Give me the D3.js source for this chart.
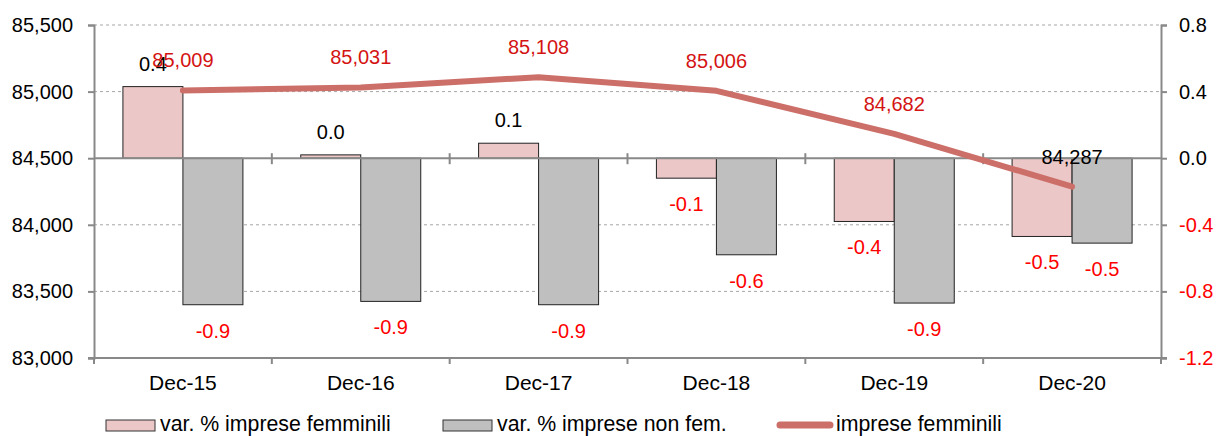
<!DOCTYPE html>
<html><head><meta charset="utf-8">
<script src="https://cdn.jsdelivr.net/npm/d3@7"></script>
<style>
html,body{margin:0;padding:0;background:#fff;}
text{font-family:"Liberation Sans",Arial,sans-serif;}
</style></head>
<body><svg id="c" width="1219" height="436"></svg>
<script>
const categories = ["Dec-15","Dec-16","Dec-17","Dec-18","Dec-19","Dec-20"];
const varFem = [0.43, 0.02, 0.09, -0.12, -0.38, -0.47];
const varNonFem = [-0.88, -0.86, -0.88, -0.58, -0.87, -0.51];
const varFemLabels = ["0.4","0.0","0.1","-0.1","-0.4","-0.5"];
const varNonFemLabels = ["-0.9","-0.9","-0.9","-0.6","-0.9","-0.5"];
const impreseFem = [85009, 85031, 85108, 85006, 84682, 84287];
const leftTicks = [83000, 83500, 84000, 84500, 85000, 85500];
const rightTicks = [-1.2, -0.8, -0.4, 0.0, 0.4, 0.8];
const seriesNames = ["var. % imprese femminili", "var. % imprese non fem.", "imprese femminili"];

const svg = d3.select("#c");
const L = 94, R = 1161, T = 25, B = 358;
const x = d3.scaleBand().domain(categories).range([L, R]).paddingInner(0).paddingOuter(0);
const yL = d3.scaleLinear().domain([83000, 85500]).range([B, T]);
const yR = d3.scaleLinear().domain([-1.2, 0.8]).range([B, T]);
const axisCol = "#898989";
const fmt = d3.format(",");
const fmtR = d => d3.format(".1f")(d).replace("\u2212", "-");

// gridlines
svg.append("g").selectAll("line").data(leftTicks.filter(d => d !== 83000 && d !== 84500)).join("line")
  .attr("x1", L).attr("x2", R).attr("y1", d => yL(d)).attr("y2", d => yL(d))
  .attr("stroke", "#a6a6a6").attr("stroke-width", 1).attr("stroke-dasharray", "3,3");

// bars
const bw = 60;
const pad = (x.bandwidth() - 2 * bw) / 2;
const g = svg.append("g");
g.selectAll("rect.f").data(varFem).join("rect").attr("class","f")
  .attr("x", (d,i) => x(categories[i]) + pad)
  .attr("y", d => Math.min(yR(d), yR(0)))
  .attr("width", bw).attr("height", d => Math.abs(yR(d) - yR(0)))
  .attr("fill", "#ebc8c7").attr("stroke", "#222").attr("stroke-width", 1);
g.selectAll("rect.n").data(varNonFem).join("rect").attr("class","n")
  .attr("x", (d,i) => x(categories[i]) + pad + bw)
  .attr("y", d => Math.min(yR(d), yR(0)))
  .attr("width", bw).attr("height", d => Math.abs(yR(d) - yR(0)))
  .attr("fill", "#bfbfbf").attr("stroke", "#222").attr("stroke-width", 1);

// zero line with category ticks
const zeroY = yR(0);
svg.append("line").attr("x1", L).attr("x2", R).attr("y1", zeroY).attr("y2", zeroY)
  .attr("stroke", axisCol).attr("stroke-width", 2);
const bounds = categories.map(c => x(c)).concat([R]);
svg.append("g").selectAll("line").data(bounds.slice(1, -1)).join("line")
  .attr("x1", d => d).attr("x2", d => d).attr("y1", zeroY - 5).attr("y2", zeroY + 6)
  .attr("stroke", axisCol).attr("stroke-width", 2);

// bottom axis
const xAxis = svg.append("g").attr("transform", `translate(0,${B})`)
  .call(d3.axisBottom(x).tickSize(0).tickPadding(0));
xAxis.select(".domain").remove();
xAxis.selectAll("text").attr("y", 32).attr("dy", 0).attr("font-size", 21).attr("fill", "#000")
  .attr("font-family", "Liberation Sans, Arial, sans-serif");
svg.append("line").attr("x1", L - 6).attr("x2", R + 6).attr("y1", B).attr("y2", B)
  .attr("stroke", axisCol).attr("stroke-width", 2);
svg.append("g").selectAll("line").data(bounds).join("line")
  .attr("x1", d => d).attr("x2", d => d).attr("y1", B).attr("y2", B + 6)
  .attr("stroke", axisCol).attr("stroke-width", 2);

// left axis
const la = svg.append("g").attr("transform", `translate(${L},0)`)
  .call(d3.axisLeft(yL).tickValues(leftTicks).tickFormat(fmt).tickSize(6).tickPadding(15));
la.select(".domain").attr("stroke", axisCol).attr("stroke-width", 2);
la.selectAll(".tick line").attr("stroke", axisCol).attr("stroke-width", 2);
la.selectAll("text").attr("font-size", 20).attr("fill", "#000").attr("font-family", "Liberation Sans, Arial, sans-serif");

// right axis
const ra = svg.append("g").attr("transform", `translate(${R},0)`)
  .call(d3.axisRight(yR).tickValues(rightTicks).tickFormat(fmtR).tickSize(6).tickPadding(12));
ra.select(".domain").attr("stroke", axisCol).attr("stroke-width", 2);
ra.selectAll(".tick line").attr("stroke", axisCol).attr("stroke-width", 2);
ra.selectAll("text").attr("font-size", 20).attr("font-family", "Liberation Sans, Arial, sans-serif")
  .attr("fill", d => d < 0 ? "#ff0000" : "#000");

// line
const cx = i => x(categories[i]) + x.bandwidth() / 2;
const line = d3.line().x((d,i) => cx(i)).y(d => yL(d));
svg.append("path").datum(impreseFem).attr("d", line)
  .attr("fill", "none").attr("stroke", "#cd6f69").attr("stroke-width", 6)
  .attr("stroke-linecap", "round").attr("stroke-linejoin", "round");

// bar labels
const lab = svg.append("g").attr("font-size", 20).attr("text-anchor", "middle");
lab.selectAll("text.f").data(varFem).join("text").attr("class","f")
  .attr("x", (d,i) => x(categories[i]) + pad + bw / 2)
  .attr("y", d => d >= 0 ? yR(d) - 16 : yR(d) + 33)
  .attr("fill", (d,i) => varFemLabels[i].startsWith("-") ? "#ff0000" : "#000")
  .text((d,i) => varFemLabels[i]);
lab.selectAll("text.n").data(varNonFem).join("text").attr("class","n")
  .attr("x", (d,i) => x(categories[i]) + pad + bw * 1.5)
  .attr("y", d => d >= 0 ? yR(d) - 16 : yR(d) + 33)
  .attr("fill", (d,i) => varNonFemLabels[i].startsWith("-") ? "#ff0000" : "#000")
  .text((d,i) => varNonFemLabels[i]);

// line labels
lab.selectAll("text.l").data(impreseFem).join("text").attr("class","l")
  .attr("x", (d,i) => cx(i))
  .attr("y", d => yL(d) - 23)
  .attr("fill", (d,i) => i === impreseFem.length - 1 ? "#000" : "#d41313")
  .text(d => fmt(d));

// legend
const lg = svg.append("g").attr("font-size", 21.3);
lg.append("rect").attr("x", 106).attr("y", 420).attr("width", 49).attr("height", 11)
  .attr("fill", "#ebc8c7").attr("stroke", "#333").attr("stroke-width", 1);
lg.append("text").attr("x", 160).attr("y", 431).text(seriesNames[0]);
lg.append("rect").attr("x", 443).attr("y", 420).attr("width", 49).attr("height", 11)
  .attr("fill", "#bfbfbf").attr("stroke", "#333").attr("stroke-width", 1);
lg.append("text").attr("x", 497).attr("y", 431).text(seriesNames[1]);
lg.append("line").attr("x1", 780).attr("x2", 830).attr("y1", 425).attr("y2", 425)
  .attr("stroke", "#cd6f69").attr("stroke-width", 7).attr("stroke-linecap", "round");
lg.append("text").attr("x", 836).attr("y", 431).text(seriesNames[2]);
</script></body></html>
